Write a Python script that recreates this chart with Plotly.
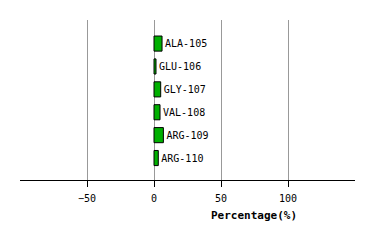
import plotly.graph_objects as go

residues = ["ALA-105", "GLU-106", "GLY-107", "VAL-108", "ARG-109", "ARG-110"]
percent = [6.0, 1.5, 5.0, 4.5, 7.0, 3.2]
x_ticks = [-50, 0, 50, 100]
x_tick_labels = ["\u221250", "0", "50", "100"]
x_title = "Percentage(%)"

ypos = list(range(len(residues)))

fig = go.Figure()
fig.add_trace(go.Bar(
    x=percent, y=ypos, orientation="h",
    marker=dict(color="#00b000", line=dict(color="black", width=1)),
    width=0.66,
    text=residues, textposition="outside", cliponaxis=False,
    textfont=dict(family="DejaVu Sans Mono", size=10, color="black"),
    hoverinfo="skip",
))
fig.update_layout(
    width=374, height=240,
    margin=dict(l=20, r=19, t=20, b=60),
    plot_bgcolor="white", paper_bgcolor="white",
    showlegend=False,
    font=dict(family="DejaVu Sans Mono", size=10, color="black"),
    annotations=[dict(
        text="<b>" + x_title + "</b>", xref="paper", yref="paper",
        x=0.698, y=-0.219, xanchor="center", yanchor="middle",
        showarrow=False, font=dict(family="DejaVu Sans Mono", size=11, color="black"),
    )],
)
fig.update_xaxes(
    range=[-100, 150],
    tickvals=x_ticks, ticktext=x_tick_labels,
    showgrid=True, gridcolor="#999999", gridwidth=1,
    zeroline=False,
    showline=True, linecolor="black", linewidth=1,
    ticks="outside", ticklen=6, tickcolor="black",
    ticklabelstandoff=3,
    fixedrange=True,
)
fig.update_yaxes(
    range=[5.96, -1.03],
    showgrid=False, zeroline=False, showticklabels=False, showline=False,
    fixedrange=True,
)
fig.write_html("out.html")
